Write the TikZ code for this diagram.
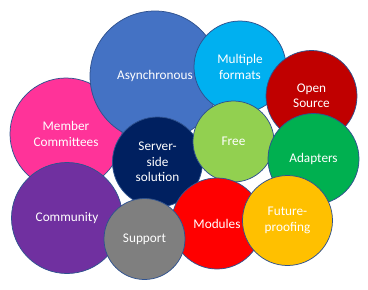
\documentclass[tikz,border=0pt]{standalone}
\usepackage{fontspec}
\setmainfont{Carlito}
\usepackage{xcolor}
\usepackage{tikz}

\definecolor{rim}{HTML}{2F528F}
\definecolor{cpink}{HTML}{FF3399}
\definecolor{cblue}{HTML}{4472C4}
\definecolor{ccyan}{HTML}{00B0F0}
\definecolor{cdarkred}{HTML}{C00000}
\definecolor{cnavy}{HTML}{002060}
\definecolor{clime}{HTML}{92D050}
\definecolor{cgreen}{HTML}{00B050}
\definecolor{cpurple}{HTML}{7030A0}
\definecolor{cgray}{HTML}{7F7F7F}
\definecolor{cred}{HTML}{FF0000}
\definecolor{cgold}{HTML}{FFC000}

\begin{document}
\begin{tikzpicture}[
    x=1bp, y=-1bp,
    bubble/.style={circle, draw=rim, line width=0.75pt, minimum size=#1, inner sep=0pt,
        text=white, align=center, font=\fontsize{13.3}{15.5}\selectfont},
]
\useasboundingbox (0,0) rectangle (368,290);

% Back circles
\node[bubble=112bp, fill=cpink] (member) at (66,134) {Member\\Committees};
\node[bubble=130bp, fill=cblue] (async) at (155,76) {Asynchronous};
\node[bubble=92bp, fill=ccyan] (formats) at (240,67) {Multiple\\formats};
\node[bubble=91bp, fill=cdarkred] (open) at (311.5,96) {Open\\Source};

% Middle circles
\node[bubble=90bp, fill=cnavy] (server) at (157.5,162) {Server-\\side\\solution};
\node[bubble=81bp, fill=clime] (free) at (233.5,141.5) {Free};
\node[bubble=91bp, fill=cgreen] (adapters) at (313.5,159) {Adapters};

% Front circles
\node[bubble=111bp, fill=cpurple] (community) at (67,218) {Community};
\node[bubble=91bp, fill=cred] (modules) at (217,223.5) {Modules};
\node[bubble=81bp, fill=cgray] (support) at (144.5,239) {Support};
\node[bubble=90bp, fill=cgold] (future) at (287.5,220.5) {Future-\\proofing};
\end{tikzpicture}
\end{document}
